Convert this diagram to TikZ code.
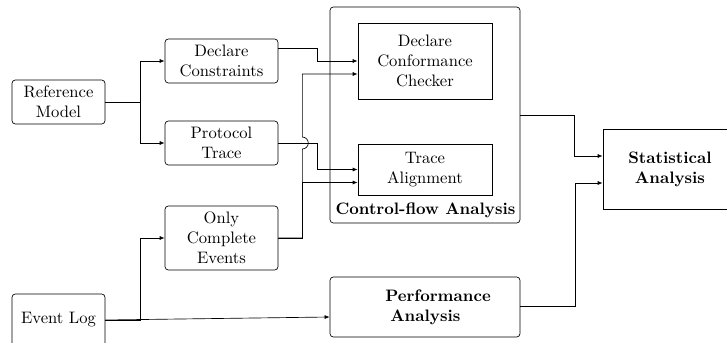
\documentclass[tikz,border=0pt]{standalone}
\usetikzlibrary{arrows.meta,calc}
\def\pxlen{0.6024pt}
\begin{document}
\begin{tikzpicture}[x=0.6024pt,y=-0.6024pt,
  rbox/.style={draw,rounded corners=2pt,align=center,inner sep=0pt},
  sbox/.style={draw,align=center,inner sep=0pt},
  arr/.style={-{Latex[length=3pt,width=2.4pt]}}]
\useasboundingbox (0,0) rectangle (727,343);
% left column
\node[rbox,minimum width=93*\pxlen,minimum height=44*\pxlen] (rm) at (58.5,102) {Reference\\Model};
\node[rbox,minimum width=93*\pxlen,minimum height=52*\pxlen] (el) at (58.5,320) {Event Log};
% middle column
\node[rbox,minimum width=113*\pxlen,minimum height=44*\pxlen] (dc) at (221.5,61) {Declare\\Constraints};
\node[rbox,minimum width=113*\pxlen,minimum height=44*\pxlen] (pt) at (221.5,143) {Protocol\\Trace};
\node[rbox,minimum width=113*\pxlen,minimum height=64*\pxlen] (oce) at (221.5,238) {Only\\Complete\\Events};
% control-flow container
\node[rbox,minimum width=190*\pxlen,minimum height=216*\pxlen] (cf) at (425,115) {};
\node[sbox,minimum width=134*\pxlen,minimum height=76*\pxlen] (dcc) at (425,61) {Declare\\Conformance\\Checker};
\node[sbox,minimum width=134*\pxlen,minimum height=51*\pxlen] (ta) at (425,169.5) {Trace\\Alignment};
\node[inner sep=0pt] (cfl) at (425.5,210) {\textbf{Control-flow Analysis}};
% performance
\node[rbox,minimum width=190*\pxlen,minimum height=60*\pxlen,align=left] (pa) at (425,307) {\hspace*{15.7pt}\textbf{Performance}\\\hspace*{18.7pt}\textbf{Analysis}};
% statistical
\node[sbox,minimum width=134*\pxlen,minimum height=80*\pxlen] (sa) at (670,169) {\textbf{Statistical}\\\textbf{Analysis}};
% connectors
\draw[arr] (rm.east) -- ++(35,0) |- (dc.west);
\draw[arr] (rm.east) -- ++(35,0) |- (pt.west);
\draw[arr] ($(dc.east)+(0,-13)$) -- ++(39,0) |- (dcc.west);
\draw[arr] (pt.east) -- ++(39,0) |- (ta.west);
\draw[arr] (oce.east) -| ($(pt.east)+(24,6)$) arc[start angle=-90,end angle=90,radius=3.6pt] |- ($(dcc.west)+(0,13)$);
\draw[arr] (oce.east) -- ++(24,0) |- ($(ta.west)+(0,13)$);
\draw[arr] (el.east) -- ++(35,0) |- (oce.west);
\draw[arr] (el.east) -- ($(pa.west)+(0,10)$);
\draw[arr] (cf.east) -- ++(54,0) |- ($(sa.west)+(0,-13)$);
\draw[arr] ($(pa.east)+(0,-1)$) -- ++(55,0) |- ($(sa.west)+(0,14)$);
\end{tikzpicture}
\end{document}
